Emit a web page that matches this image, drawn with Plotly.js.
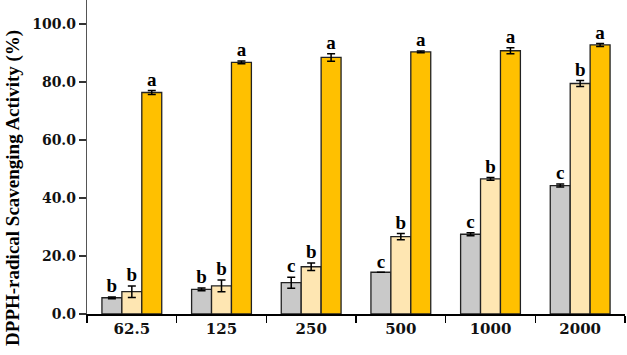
<!DOCTYPE html>
<html><head><meta charset="utf-8">
<script src="https://cdn.plot.ly/plotly-3.0.1.min.js"></script>
<style>html,body{margin:0;padding:0;background:#fff}#c{width:627px;height:355px}</style>
</head><body><div id="c"></div>
<script>
const categories = ['62.5','125','250','500','1000','2000'];
const seriesA = [5.6, 8.5, 10.8, 14.4, 27.5, 44.3];
const seriesAErr = [0.3, 0.5, 1.9, 0, 0.5, 0.5];
const seriesB = [7.7, 9.7, 16.3, 26.7, 46.6, 79.5];
const seriesBErr = [2.0, 2.0, 1.3, 1.1, 0.5, 1.0];
const seriesC = [76.4, 86.8, 88.5, 90.4, 90.8, 92.8];
const seriesCErr = [0.7, 0.5, 1.3, 0.3, 1.0, 0.5];
const lettersA = ['b','b','c','c','c','c'];
const lettersB = ['b','b','b','b','b','b'];
const lettersC = ['a','a','a','a','a','a'];
const yTitle = 'DPPH-radical Scavenging Activity (%)';
const colors = ['#c9c9c9', '#fee6b2', '#ffc000'];

const serif = 'Liberation Serif, Times New Roman, serif';
const tickFontX = {family: 'DejaVu Serif', size: 15, color: '#111', weight: 'bold'};
const tickFontY = {family: 'DejaVu Serif', size: 14, color: '#111', weight: 'bold'};
const series = [[seriesA, seriesAErr, lettersA], [seriesB, seriesBErr, lettersB], [seriesC, seriesCErr, lettersC]];
const traces = [];
series.forEach((s, i) => {
  traces.push({
    type: 'bar', x: categories, y: s[0], offsetgroup: 'g' + i,
    marker: {color: colors[i], line: {color: '#222', width: 1.3}},
    error_y: {type: 'data', array: s[1], visible: true, color: '#000', thickness: 1.5, width: 4},
    showlegend: false, hoverinfo: 'skip'
  });
});
series.forEach((s, i) => {
  traces.push({
    type: 'scatter', mode: 'text', x: categories,
    y: s[0].map((v, k) => v + s[1][k]), offsetgroup: 'g' + i,
    text: s[2], textposition: 'top center',
    textfont: {family: serif, size: 19, color: '#000', weight: 'bold'},
    showlegend: false, hoverinfo: 'skip', cliponaxis: false
  });
});

const layout = {
  width: 627, height: 355,
  margin: {l: 87, r: 2, t: 0, b: 41},
  paper_bgcolor: '#fff', plot_bgcolor: '#fff',
  barmode: 'group', bargap: 0.333, bargroupgap: 0,
  scattermode: 'group', scattergap: 0.333,
  xaxis: {
    type: 'category', tickson: 'boundaries', ticks: 'outside', ticklen: 7, tickwidth: 1.5, tickcolor: '#000',
    showline: true, linecolor: '#000', linewidth: 1.5, showgrid: false, zeroline: false,
    tickfont: tickFontX
  },
  yaxis: {
    range: [0, 108.3], dtick: 20, tickformat: '.1f', ticks: 'outside', ticklen: 7, tickwidth: 1.2, tickcolor: '#333',
    showline: true, linecolor: '#555', linewidth: 1.2, showgrid: false, zeroline: false,
    tickfont: tickFontY
  },
  annotations: [{
    text: yTitle, xref: 'paper', yref: 'paper', x: -0.1375, y: -0.108,
    xanchor: 'center', yanchor: 'bottom', textangle: -90, showarrow: false,
    font: {family: serif, size: 19, color: '#000', weight: 'bold'}
  }]
};
Plotly.newPlot('c', traces, layout, {staticPlot: true});
</script></body></html>
